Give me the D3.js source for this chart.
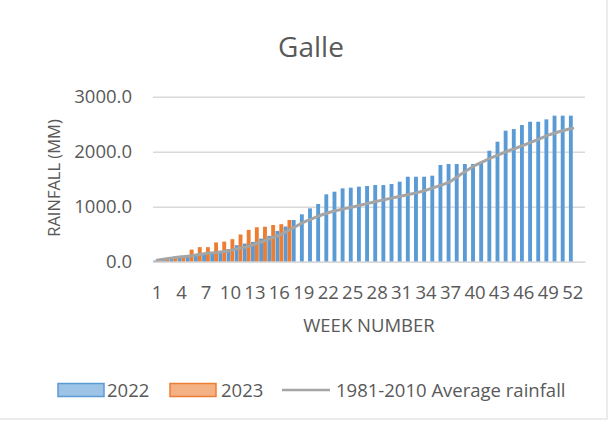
<!DOCTYPE html>
<html>
<head>
<meta charset="utf-8">
<script src="https://cdn.jsdelivr.net/npm/d3@7/dist/d3.min.js"></script>
<style>
  html, body { margin: 0; padding: 0; background: #ffffff; }
  svg { display: block; }
  text { font-family: "Open Sans", "Lato", sans-serif; fill: #595959; }
</style>
</head>
<body>
<svg id="chart" width="615" height="423"></svg>
<script>
// ---- data ----
const weeks = d3.range(1, 54); // axis has 53 slots, week 53 empty
const tickWeeks = [1, 4, 7, 10, 13, 16, 19, 22, 25, 28, 31, 34, 37, 40, 43, 46, 49, 52];
const yTicks = [0, 1000, 2000, 3000];
const seriesNames = ["2022", "2023", "1981-2010 Average rainfall"];

const rain2022 = [20, 40, 55, 70, 90, 110, 130, 150, 180, 230, 300, 330, 360, 420, 470, 560, 640,
  758, 861, 970, 1049, 1225, 1273, 1334, 1346, 1364, 1376, 1394, 1394, 1412, 1455, 1545, 1545,
  1545, 1564, 1758, 1776, 1776, 1776, 1776, 1800, 2018, 2182, 2382, 2412, 2485, 2545, 2545,
  2588, 2655, 2655, 2655];
const rain2023 = [25, 45, 70, 90, 220, 265, 265, 350, 365, 410, 495, 578, 626, 636, 667, 682, 758];
const avgRain = [25, 50, 70, 88, 105, 125, 150, 165, 180, 205, 240, 270, 320, 370, 430, 480, 560,
  640, 720, 780, 840, 890, 930, 965, 995, 1030, 1065, 1100, 1130, 1165, 1195, 1225, 1260, 1300,
  1350, 1400, 1460, 1560, 1660, 1750, 1820, 1890, 1950, 2010, 2060, 2120, 2180, 2240, 2300,
  2350, 2390, 2425];

const colors = { blue: "#5B9BD5", orange: "#ED7D31", gray: "#A5A5A5", grid: "#D9D9D9", text: "#595959" };
const FONT = "'Open Sans', Lato, sans-serif";

// ---- scales ----
const svg = d3.select("#chart");
const x = d3.scaleBand().domain(weeks).range([153, 585]).paddingInner(0).paddingOuter(0);
const xs = d3.scaleBand().domain(["2022", "2023"]).range([0.2, x.bandwidth() - 0.2]);
const y = d3.scaleLinear().domain([0, 3000]).range([261.7, 96.7]);

// chart border (faint)
svg.append("rect").attr("x", -2).attr("y", -2).attr("width", 609).attr("height", 421)
  .attr("fill", "none").attr("stroke", "#D9D9D9").attr("stroke-width", 1);

// title
svg.append("text").attr("x", 311).attr("y", 57).attr("text-anchor", "middle")
  .style("font-size", "28px").text("Galle");

// gridlines & y labels
const yAxis = d3.axisLeft(y).tickValues(yTicks).tickSize(-(585 - 153)).tickFormat(d3.format(".1f"));
const gy = svg.append("g").attr("transform", "translate(153,0)").call(yAxis);
gy.select(".domain").remove();
gy.selectAll(".tick line").attr("stroke", colors.grid).attr("stroke-width", 1.4);
gy.selectAll(".tick text").attr("x", -21).attr("fill", colors.text)
  .style("font-size", "18.5px").style("font-family", FONT);

// bars 2022
svg.append("g").selectAll("rect").data(rain2022).join("rect")
  .attr("x", (d, i) => x(weeks[i]) + xs("2022"))
  .attr("width", xs.bandwidth())
  .attr("y", d => y(d))
  .attr("height", d => y(0) - y(d))
  .attr("fill", colors.blue);

// bars 2023
svg.append("g").selectAll("rect").data(rain2023).join("rect")
  .attr("x", (d, i) => x(weeks[i]) + xs("2023"))
  .attr("width", xs.bandwidth())
  .attr("y", d => y(d))
  .attr("height", d => y(0) - y(d))
  .attr("fill", colors.orange);

// average line
const line = d3.line().x((d, i) => x(weeks[i]) + x.bandwidth() / 2).y(d => y(d)).curve(d3.curveMonotoneX);
svg.append("path").datum(avgRain).attr("d", line)
  .attr("fill", "none").attr("stroke", colors.gray).attr("stroke-width", 3).attr("stroke-linecap", "round");

// x axis
const xAxis = d3.axisBottom(x).tickValues(tickWeeks).tickSize(0).tickPadding(0);
const gx = svg.append("g").attr("transform", "translate(0,261.7)").call(xAxis);
gx.select(".domain").attr("stroke", colors.grid).attr("stroke-width", 1.4);
gx.selectAll(".tick text").attr("y", 0).attr("dy", "37px").attr("fill", colors.text)
  .style("font-size", "18.5px").style("font-family", FONT);

// axis titles
svg.append("text").attr("x", 369).attr("y", 332).attr("text-anchor", "middle")
  .style("font-size", "18.5px").text("WEEK NUMBER");
svg.append("text").attr("transform", "translate(60,178) rotate(-90)").attr("text-anchor", "middle")
  .style("font-size", "16.5px").text("RAINFALL (MM)");

// legend
const lg = svg.append("g");
lg.append("rect").attr("x", 58).attr("y", 383.5).attr("width", 46).attr("height", 13)
  .attr("fill", "#9DC3E6").attr("stroke", colors.blue).attr("stroke-width", 1.5);
lg.append("text").attr("x", 107).attr("y", 397).style("font-size", "18.5px").text(seriesNames[0]);
lg.append("rect").attr("x", 170).attr("y", 383.5).attr("width", 46).attr("height", 13)
  .attr("fill", "#F4B183").attr("stroke", colors.orange).attr("stroke-width", 1.5);
lg.append("text").attr("x", 221).attr("y", 397).style("font-size", "18.5px").text(seriesNames[1]);
lg.append("line").attr("x1", 282).attr("x2", 330).attr("y1", 390).attr("y2", 390)
  .attr("stroke", colors.gray).attr("stroke-width", 2.5);
lg.append("text").attr("x", 336).attr("y", 397).style("font-size", "18.5px").text(seriesNames[2]);
</script>
</body>
</html>
